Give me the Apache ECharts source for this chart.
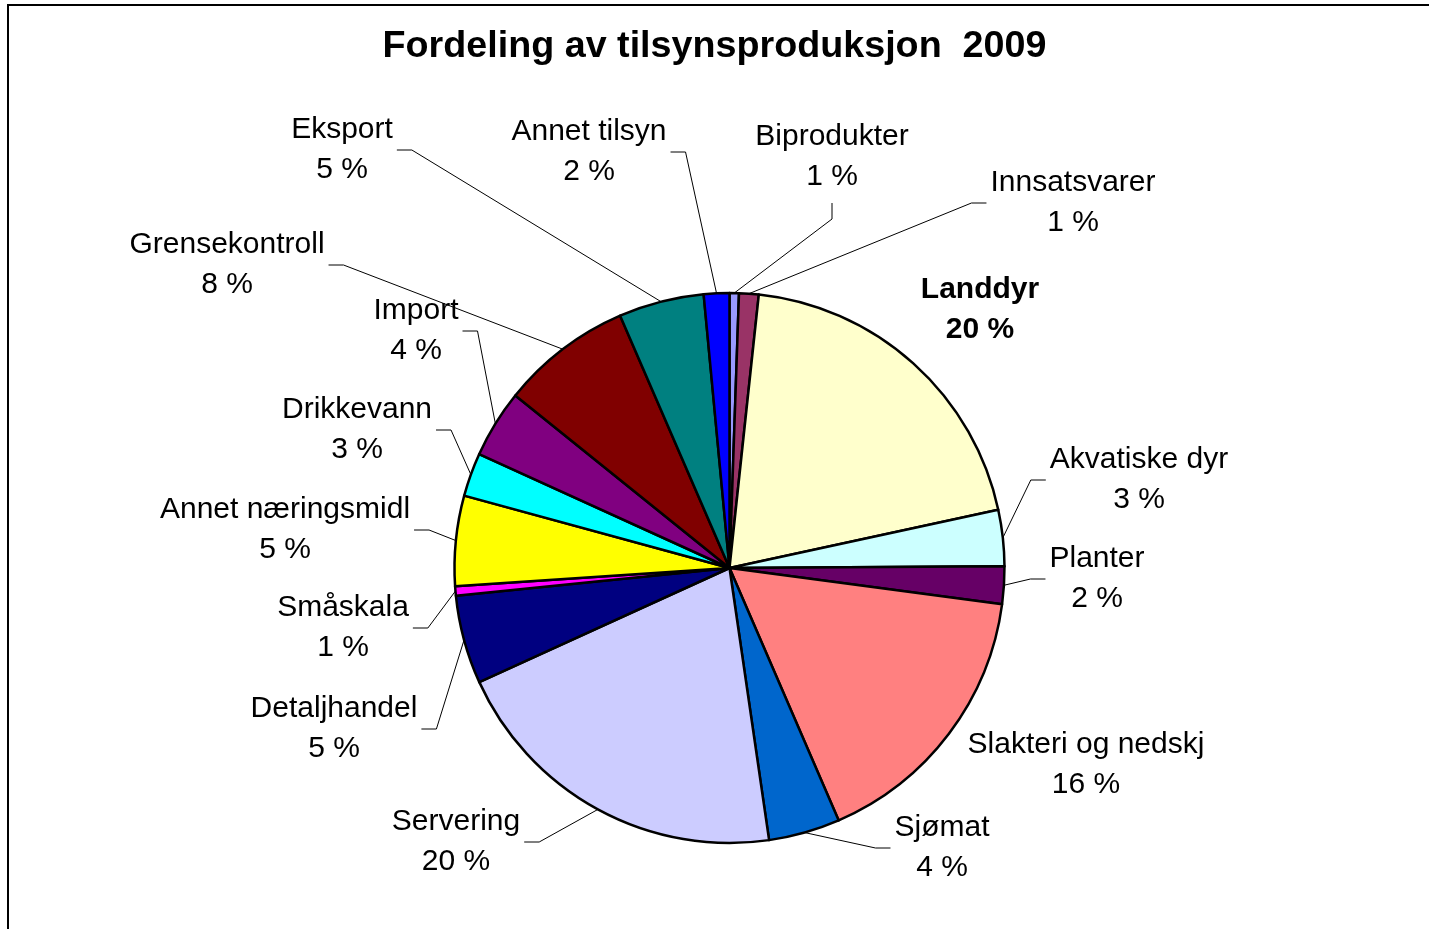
<!DOCTYPE html>
<html>
<head>
<meta charset="utf-8">
<title>Fordeling av tilsynsproduksjon 2009</title>
<script src="https://cdn.jsdelivr.net/npm/echarts@6/dist/echarts.min.js"></script>
<style>
  html, body { margin: 0; padding: 0; background: #fff; }
  #chart { width: 1429px; height: 929px; }
</style>
</head>
<body>
<div id="chart"></div>
<script>
const categories = [
  'Biprodukter', 'Innsatsvarer', 'Landdyr', 'Akvatiske dyr', 'Planter',
  'Slakteri og nedskj', 'Sjømat', 'Servering', 'Detaljhandel', 'Småskala',
  'Annet næringsmidl', 'Drikkevann', 'Import', 'Grensekontroll', 'Eksport', 'Annet tilsyn'
];
// share of inspection work, percent
const values = [0.55, 1.15, 19.9, 3.3, 2.2, 16.4, 4.2, 20.49, 5.2, 0.55, 5.3, 2.55, 4.0, 7.7, 5.01, 1.5];
const colors = [
  '#9999FF', '#993366', '#FFFFCC', '#CCFFFF', '#660066',
  '#FF8080', '#0066CC', '#CCCCFF', '#000080', '#FF00FF',
  '#FFFF00', '#00FFFF', '#800080', '#800000', '#008080', '#0000FF'
];
const boldLabels = ['Landdyr'];

// label block centre + side where the leader line attaches ('none' = no line)
const labelPlaces = [
  [832, 157, 'bottom'], [1073, 203, 'left'], [980, 310, 'none'], [1139, 480, 'left'],
  [1097, 579, 'left'], [1086, 765, 'none'], [942, 848, 'left'], [456, 842, 'right'],
  [334, 729, 'right'], [343, 628, 'right'], [285, 530, 'right'], [357, 430, 'right'],
  [416, 331, 'right'], [227, 265, 'right'], [342, 150, 'right'], [589, 152, 'right']
];

const total = values.reduce((a, b) => a + b, 0);
const FONT = '"Liberation Sans", Arial, sans-serif';

const chart = echarts.init(document.getElementById('chart'));

chart.setOption({
  animation: false,
  backgroundColor: '#fff',
  title: {
    text: 'Fordeling av tilsynsproduksjon  2009',
    left: 'center',
    top: 28,
    padding: 0,
    textStyle: { fontFamily: FONT, fontSize: 37.7, fontWeight: 'bold', color: '#000' }
  },
  graphic: [{
    type: 'rect',
    silent: true,
    shape: { x: 8, y: 5, width: 1440, height: 960 },
    style: { fill: 'none', stroke: '#000', lineWidth: 2 }
  }],
  series: [{
    type: 'pie',
    center: [729.5, 568],
    radius: 275,
    startAngle: 90,
    clockwise: true,
    avoidLabelOverlap: false,
    itemStyle: { borderColor: '#000', borderWidth: 2.5 },
    label: {
      show: true,
      position: 'outside',
      fontFamily: FONT,
      fontSize: 30,
      lineHeight: 40,
      color: '#000',
      formatter: (p) => p.name + '\n' + Math.round(p.value / total * 100) + ' %'
    },
    labelLine: {
      show: true,
      lineStyle: { color: '#000', width: 1 }
    },
    labelLayout: (params) => {
      const [x, y, side] = labelPlaces[params.dataIndex];
      const res = { x: x, y: y, align: 'center', verticalAlign: 'middle' };
      const pts = params.labelLinePoints;
      if (pts && side !== 'none') {
        const w = params.labelRect.width;
        const h = params.labelRect.height;
        let tail, elbow;
        if (side === 'right') {
          tail = [x + w / 2 + 4, y];
          elbow = [tail[0] + 15, tail[1]];
        } else if (side === 'left') {
          tail = [x - w / 2 - 4, y];
          elbow = [tail[0] - 15, tail[1]];
        } else {
          tail = [x, y + h / 2 + 6];
          elbow = [x, tail[1] + 16];
        }
        res.labelLinePoints = [pts[0], elbow, tail];
      }
      return res;
    },
    data: categories.map((name, i) => ({
      name: name,
      value: values[i],
      itemStyle: { color: colors[i] },
      label: boldLabels.includes(name) ? { fontWeight: 'bold' } : undefined,
      labelLine: labelPlaces[i][2] === 'none' ? { show: false } : undefined
    }))
  }]
});

window.addEventListener('resize', () => chart.resize());
</script>
</body>
</html>
